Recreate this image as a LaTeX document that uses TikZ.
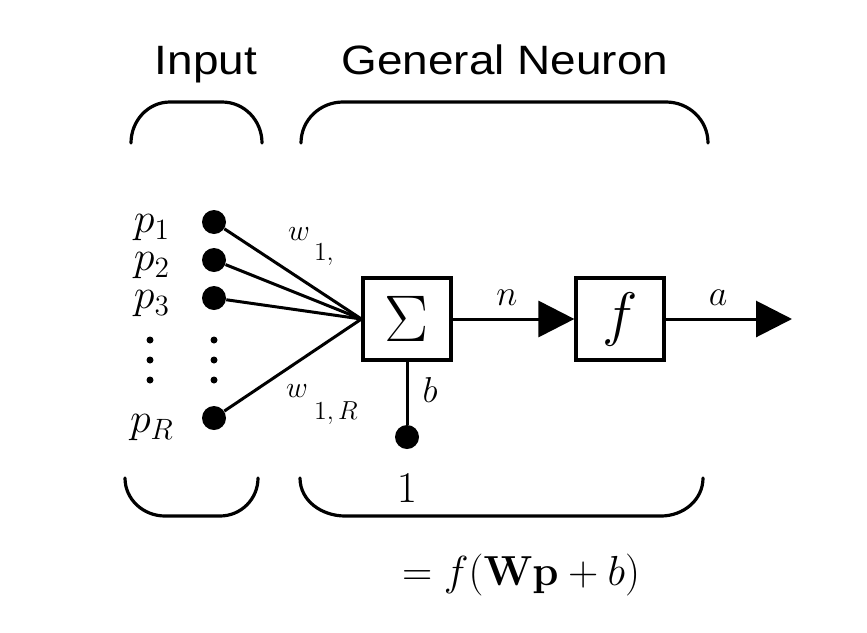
\RequirePackage{fix-cm}
\documentclass[tikz,border=0pt]{standalone}
\usepackage[no-math]{fontspec}
\setmainfont{Liberation Sans}
\newfontfamily\headfont[FakeStretch=1.12]{Liberation Sans}
\usetikzlibrary{arrows.meta}
\newcommand{\fsz}[1]{\fontsize{#1}{#1}\selectfont}
\begin{document}
\begin{tikzpicture}[x=0.5pt, y=-0.5pt,
    wire/.style={line width=1.5pt},
    hook/.style={line width=1.6pt, line cap=round},
    blob/.style={circle, fill, inner sep=0pt, minimum size=12pt},
    speck/.style={circle, fill, inner sep=0pt, minimum size=3.5pt},
    block/.style={draw, line width=1.6pt, minimum width=44pt, minimum height=41pt, inner sep=0pt},
    flow/.style={wire, -{Triangle[length=18pt, width=18pt]}}]
  \useasboundingbox (0,0) rectangle (867,632);
  % headings
  \node[font=\headfont\fsz{20.5}, anchor=base] (inhead) at (206,74) {Input};
  \node[font=\headfont\fsz{20.5}, anchor=base] (neuhead) at (505,74) {General Neuron};
  % top braces
  \draw[hook] (131,143) to[out=90, in=180] (170,102) -- (222,102) to[out=0, in=90] (262,143);
  \draw[hook] (301,143) to[out=90, in=180] (343,102) -- (666,102) to[out=0, in=90] (708,143);
  % bottom braces
  \draw[hook] (125,478) to[out=-90, in=180] (165,516) -- (220,516) to[out=0, in=-90] (258,478);
  \draw[hook] (300,478) to[out=-90, in=180] (345,516) -- (661,516) to[out=0, in=-90] (703,478);
  % summer and transfer function
  \node[block, font=\fsz{33}] (sum) at (407,319) {$\Sigma$};
  \node[block, font=\fsz{30}] (fun) at (620,319) {$f$};
  \coordinate (out) at (792,319);
  \coordinate (join) at (sum.west);
  % inputs
  \foreach \name/\py in {p1/222, p2/260, p3/298, pR/418} {
    \node[blob] (\name) at (214,\py) {};
    \draw[wire] (\name) -- (join);
  }
  \foreach \py in {340, 360, 380} {
    \node[speck] (rd\py) at (214,\py) {};
    \node[speck] (ld\py) at (150,\py) {};
  }
  \node[font=\fsz{21}] (lp1) at (152,228) {$p_1$};
  \node[font=\fsz{21}] (lp2) at (152,266) {$p_2$};
  \node[font=\fsz{21}] (lp3) at (152,304) {$p_3$};
  \node[font=\fsz{21}] (lpR) at (152,428) {$p_R$};
  % weights
  \node[font=\fsz{15}] (w11) at (311,247) {$w$\hspace{2pt}\raisebox{-10pt}{\fsz{13}$1,$}};
  \node[font=\fsz{15}] (w1R) at (322,405) {$w$\hspace{3pt}\raisebox{-11pt}{\fsz{13}$1,R$}};
  % bias
  \node[blob] (one) at (407,437) {};
  \draw[wire] (sum.south) -- (one);
  \node[font=\fsz{18}] (blab) at (430,390) {$b$};
  \node[font=\fsz{22}] (onelab) at (407,488) {$1$};
  % output path
  \draw[flow] (sum) -- (fun);
  \draw[flow] (fun) -- (out);
  \node[font=\fsz{18}] (nlab) at (507,298) {$n$};
  \node[font=\fsz{18}] (alab) at (718,298) {$a$};
  \node[font=\fsz{21}] (form) at (521,575) {$=f(\mathbf{Wp}+b)$};
\end{tikzpicture}
\end{document}
